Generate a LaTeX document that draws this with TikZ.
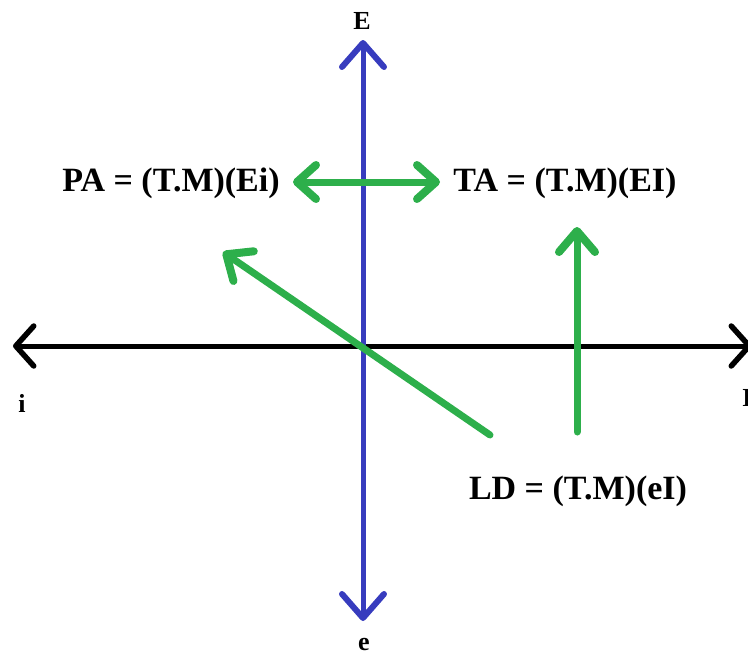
\documentclass[tikz,border=0pt]{standalone}
\usepackage{fontspec}
\setmainfont{Liberation Serif}
\usetikzlibrary{arrows.meta}
\definecolor{axblue}{RGB}{55,60,190}
\definecolor{agreen}{RGB}{45,175,75}
\tikzset{
  lbl/.style={font=\bfseries\fontsize{34}{38}\selectfont, inner sep=0pt},
  axlbl/.style={font=\bfseries\fontsize{26}{30}\selectfont, inner sep=0pt},
  blackax/.style={line width=5pt, black, {Straight Barb[length=18pt,width=40pt,line width=5.5pt,round]}-{Straight Barb[length=18pt,width=40pt,line width=5.5pt,round]}},
  blueax/.style={line width=5pt, axblue, {Straight Barb[length=24pt,width=42pt,line width=6pt,round]}-{Straight Barb[length=24pt,width=42pt,line width=6pt,round]}},
  garrow/.style={line width=7pt, agreen, line cap=round, -{Straight Barb[length=21pt,width=36pt,line width=8pt,round]}},
  gdouble/.style={line width=7pt, agreen, {Straight Barb[length=19pt,width=34pt,line width=8pt,round]}-{Straight Barb[length=19pt,width=34pt,line width=8pt,round]}},
}
\begin{document}
\begin{tikzpicture}[x=1pt,y=-1pt]
\useasboundingbox (0,0) rectangle (748,656);
% axis end points
\coordinate (iL) at (13,346);
\coordinate (iR) at (752,346);
\coordinate (eT) at (363,40);
\coordinate (eB) at (363,621);
% black horizontal axis
\draw[blackax] (iL) -- (iR);
% blue vertical axis
\draw[blueax] (eB) -- (eT);
% axis labels
\node[axlbl] (E) at (362,21) {E};
\node[axlbl] (e) at (364,645) {e};
\node[axlbl] (i) at (22,403) {i};
\node[axlbl, anchor=west] (I) at (742,398) {I};
% text labels
\node[lbl] (PA) at (171,183) {PA = (T.M)(Ei)};
\node[lbl] (TA) at (565,183) {TA = (T.M)(EI)};
\node[lbl] (LD) at (578,491) {LD = (T.M)(eI)};
% green arrows
\coordinate (dL) at (293,182);
\coordinate (dR) at (440,182);
\draw[gdouble] (dL) -- (dR);
\coordinate (gtail) at (490,435);
\coordinate (gtip) at (223,252);
\draw[garrow] (gtail) -- (gtip);
\coordinate (vtail) at (577,432);
\coordinate (vtip) at (577,227);
\draw[garrow] (vtail) -- (vtip);
\end{tikzpicture}
\end{document}
